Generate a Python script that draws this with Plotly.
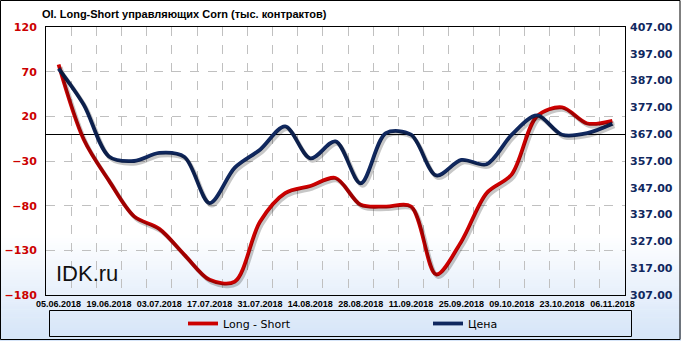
import plotly.graph_objects as go

dates = ["05.06.2018","12.06.2018","19.06.2018","26.06.2018","03.07.2018","10.07.2018",
         "17.07.2018","24.07.2018","31.07.2018","07.08.2018","14.08.2018","21.08.2018",
         "28.08.2018","04.09.2018","11.09.2018","18.09.2018","25.09.2018","02.10.2018",
         "09.10.2018","16.10.2018","23.10.2018","30.10.2018","06.11.2018"]
long_short = [78, -6, -52, -92, -106, -135, -163, -165, -98, -66, -58, -49, -79, -81, -81,
              -157, -120, -66, -45, 20, 30, 12, 15]
price = [391.5, 378, 358.7, 357, 360, 358.5, 341.3, 354.5, 361.2, 369.9, 358, 364.3, 348.7,
         367.4, 366.8, 351.6, 357.4, 355.8, 366.8, 374, 366.8, 367.4, 370.9]

left_ticks = [120, 70, 20, -30, -80, -130, -180]
right_ticks = [407, 397, 387, 377, 367, 357, 347, 337, 327, 317, 307]

W, H = 681, 341
ML, MR, MT, MB = 46, 56, 27, 46
pw, ph = W - ML - MR, H - MT - MB

RED = "#cc0000"
NAVY = "#10285f"
SHADOW = "rgba(0,0,0,0.22)"

idx = list(range(len(dates)))
XR = [-0.5, len(dates) - 0.5]
YR = [-180, 120]
Y2R = [307, 407]

# shadow offsets (pixels) -> axis range shifts
sdx, sdy = 2.0, 2.5
dx = sdx / pw * (XR[1] - XR[0])
dyl = sdy / ph * (YR[1] - YR[0])
dyr = sdy / ph * (Y2R[1] - Y2R[0])

fig = go.Figure()
fig.add_trace(go.Scatter(x=idx, y=long_short, mode="lines", showlegend=False, hoverinfo="skip",
                         line=dict(color=SHADOW, width=4, shape="spline", smoothing=0.9),
                         xaxis="x2", yaxis="y3"))
fig.add_trace(go.Scatter(x=idx, y=price, mode="lines", showlegend=False, hoverinfo="skip",
                         line=dict(color=SHADOW, width=4, shape="spline", smoothing=0.9),
                         xaxis="x2", yaxis="y4"))
fig.add_trace(go.Scatter(x=idx, y=long_short, name="Long - Short", mode="lines",
                         line=dict(color=RED, width=3.8, shape="spline", smoothing=0.9),
                         yaxis="y"))
fig.add_trace(go.Scatter(x=idx, y=price, name="Цена", mode="lines",
                         line=dict(color=NAVY, width=3.8, shape="spline", smoothing=0.9),
                         yaxis="y2"))

shapes = []
def px2px(x):
    return (x - ML) / pw
def py2py(y):
    return (H - MB - y) / ph

g0, g1 = 235, H
n = 40
c0 = (255, 255, 255)
c1 = (212, 228, 248)
for i in range(n):
    ya = g0 + (g1 - g0) * i / n
    yb = g0 + (g1 - g0) * (i + 1) / n
    t = (i + 0.5) / n
    col = tuple(int(round(c0[j] + (c1[j] - c0[j]) * t)) for j in range(3))
    shapes.append(dict(type="rect", xref="paper", yref="paper",
                       x0=px2px(0), x1=px2px(W), y0=py2py(yb + 0.5), y1=py2py(ya),
                       fillcolor="rgb(%d,%d,%d)" % col, line=dict(width=0), layer="below"))
shapes.append(dict(type="rect", xref="paper", yref="paper",
                   x0=px2px(0.5), x1=px2px(680), y0=py2py(339.5), y1=py2py(0.5),
                   line=dict(color="black", width=1), fillcolor="rgba(0,0,0,0)", layer="above"))
shapes.append(dict(type="rect", xref="paper", yref="paper",
                   x0=px2px(49.5), x1=px2px(631.5), y0=py2py(336.5), y1=py2py(310.5),
                   line=dict(color="black", width=1), fillcolor="rgba(0,0,0,0)", layer="above"))

hidden = dict(visible=False, showgrid=False, zeroline=False, automargin=False, fixedrange=True)

fig.update_layout(
    width=W, height=H,
    margin=dict(l=ML, r=MR, t=MT, b=MB, pad=0, autoexpand=False),
    paper_bgcolor="white",
    plot_bgcolor="rgba(0,0,0,0)",
    shapes=shapes,
    showlegend=True,
    legend=dict(orientation="h", xref="container", yref="container",
                x=183 / W, y=1 - 323.5 / H, xanchor="left", yanchor="middle",
                bgcolor="rgba(0,0,0,0)", borderwidth=0,
                font=dict(family="DejaVu Sans", size=11, color="black"),
                entrywidth=200, entrywidthmode="pixels", itemwidth=30),
    title=dict(text="OI. Long-Short управляющих Corn (тыс. контрактов)",
               x=42 / W, xanchor="left", y=1 - 14 / H, yanchor="middle",
               font=dict(family="Liberation Sans", size=11, color="black", weight="bold")),
    xaxis=dict(range=XR, automargin=False, tickangle=0,
               tickmode="array", tickvals=idx[::2], ticktext=dates[::2],
               tickfont=dict(family="Liberation Sans", size=9, color="black", weight="bold"),
               ticks="", showgrid=False, zeroline=False,
               showline=True, linecolor="black", linewidth=1, mirror=True,
               minor=dict(tickmode="linear", tick0=0.5, dtick=1, showgrid=True,
                          gridcolor="#c0c0c0", griddash="dash", gridwidth=1)),
    xaxis2=dict(range=[XR[0] - dx, XR[1] - dx], overlaying="x", **hidden),
    yaxis=dict(range=YR, tickmode="array", tickvals=left_ticks, automargin=False,
               tickfont=dict(family="DejaVu Sans", size=11, color=RED, weight="bold"),
               showgrid=True, gridcolor="#c0c0c0", griddash="dash", gridwidth=1,
               zeroline=True, zerolinecolor="black", zerolinewidth=1,
               showline=True, linecolor="black", linewidth=1, mirror=True, ticks="",
               ticklabelstandoff=6),
    yaxis2=dict(range=Y2R, overlaying="y", side="right", tickmode="array",
                tickvals=right_ticks, tickformat=".2f", automargin=False,
                tickfont=dict(family="DejaVu Sans", size=11, color=NAVY, weight="bold"),
                showgrid=False, zeroline=False, showline=False, ticks="",
                ticklabelstandoff=4),
    yaxis3=dict(range=[YR[0] + dyl, YR[1] + dyl], overlaying="y", **hidden),
    yaxis4=dict(range=[Y2R[0] + dyr, Y2R[1] + dyr], overlaying="y", **hidden),
    annotations=[dict(text="IDK.ru", xref="paper", yref="paper",
                      x=px2px(54), y=py2py(273), xanchor="left", yanchor="middle",
                      showarrow=False, font=dict(family="Liberation Sans", size=22, color="#111111"))],
)

fig.write_html("out.html")
